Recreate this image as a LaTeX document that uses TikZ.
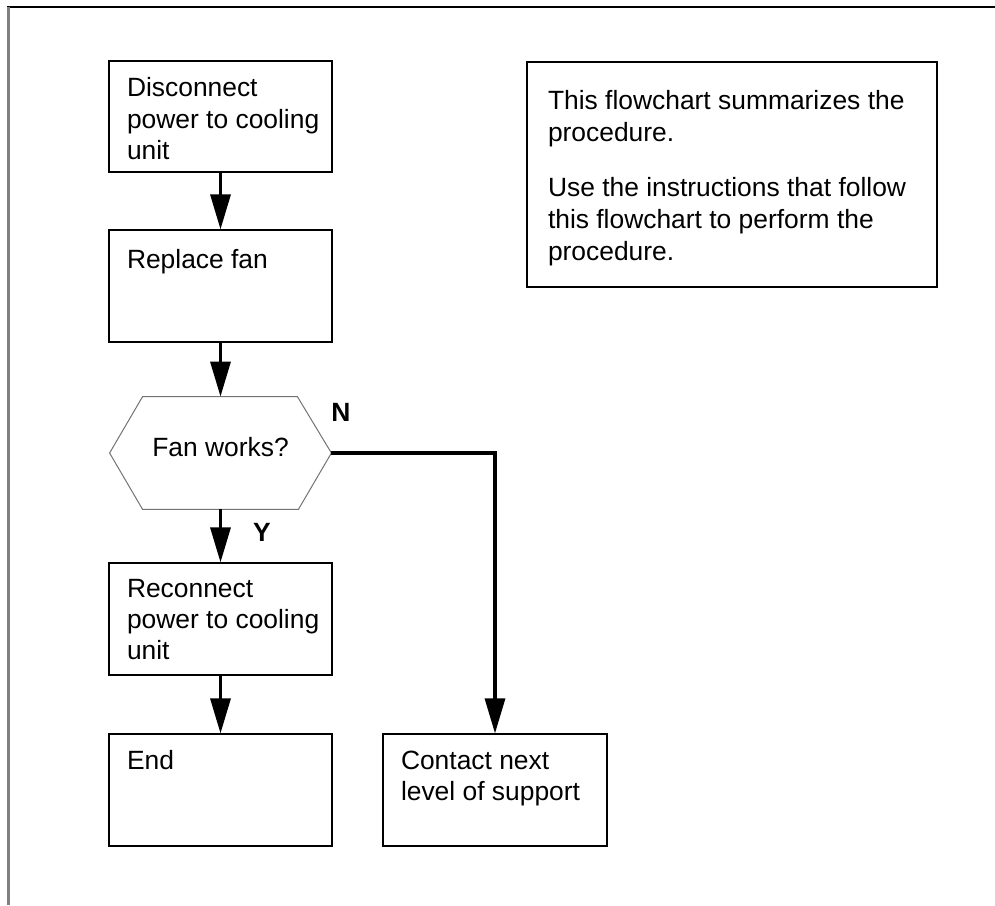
\documentclass[tikz,border=0pt]{standalone}
\usepackage{fontspec}
\setmainfont{Liberation Sans}
\usetikzlibrary{arrows.meta,calc}
% top-aligned, left-indented text block: width, height, indent, first-baseline depth, text
\newcommand{\fctext}[5]{\parbox[c][#2][t]{#1}{\raggedright\leftskip=#3\relax\rule{0pt}{#4}#5}}
\begin{document}
\begin{tikzpicture}[x=0.5pt,y=-0.5pt,
  every node/.style={font=\fontsize{13.2pt}{15.65pt}\selectfont},
  stepbox/.style={draw, line width=0.6pt, inner sep=0pt},
  notebox/.style={draw, line width=1.1pt, inner sep=0pt},
  decision/.style={inner sep=0pt, minimum width=110.5pt, minimum height=56pt,
    text height=9.5pt, text depth=6.5pt},
  hexline/.style={draw=black!55, line width=0.5pt},
  flow/.style={line width=1.6pt, -{Triangle[length=17.5pt,width=10pt]}},
  branch/.style={font=\fontsize{13.2pt}{15.65pt}\selectfont\bfseries, inner sep=0pt}
]
\useasboundingbox (0,0) rectangle (995,905);

% page frame
\draw[black, line width=1pt] (7,7) -- (995,7);
\draw[black!50, line width=1.5pt] (8,7) -- (8,905);

% process steps
\node[stepbox] (disc) at (220.5,116.5)
  {\fctext{111.5pt}{55.5pt}{9pt}{17.85pt}{Disconnect\\power to cooling\\unit}};
\node[stepbox] (repl) at (220.5,286)
  {\fctext{111.5pt}{56pt}{9pt}{19pt}{Replace fan}};
\node[decision] (dec) at (220.5,453) {Fan works?};
\draw[hexline] (dec.west) -- ($(dec.north west)+(33,0)$) -- ($(dec.north east)+(-34,0)$)
  -- (dec.east) -- ($(dec.south east)+(-33,0)$) -- ($(dec.south west)+(33,0)$) -- cycle;
\node[stepbox] (reco) at (220.5,619)
  {\fctext{111.5pt}{56pt}{9pt}{17pt}{Reconnect\\power to cooling\\unit}};
\node[stepbox] (fin) at (220.5,790)
  {\fctext{111.5pt}{56pt}{9pt}{17.5pt}{End}};
\node[stepbox] (esc) at (495,790)
  {\fctext{112pt}{56pt}{9pt}{17.5pt}{Contact next\\level of support}};

% explanatory note
\node[notebox] (note) at (732,174.5)
  {\parbox[c][112.5pt][t]{205pt}{\raggedright\leftskip=10.5pt\baselineskip=16pt
   \rule{0pt}{23.5pt}This flowchart summarizes the\\procedure.\\[11.85pt]Use the instructions that follow\\this flowchart to perform the\\procedure.}};

% connectors
\draw[flow] (disc.south) -- (repl.north);
\draw[flow] (repl.south) -- (dec.north);
\draw[flow] (dec.south) -- (reco.north);
\draw[flow] (reco.south) -- (fin.north);
\draw[flow] (dec.east) -| (esc.north);

% branch labels
\node[branch] (nlab) at (341,412) {N};
\node[branch] (ylab) at (262,532) {Y};
\end{tikzpicture}
\end{document}
